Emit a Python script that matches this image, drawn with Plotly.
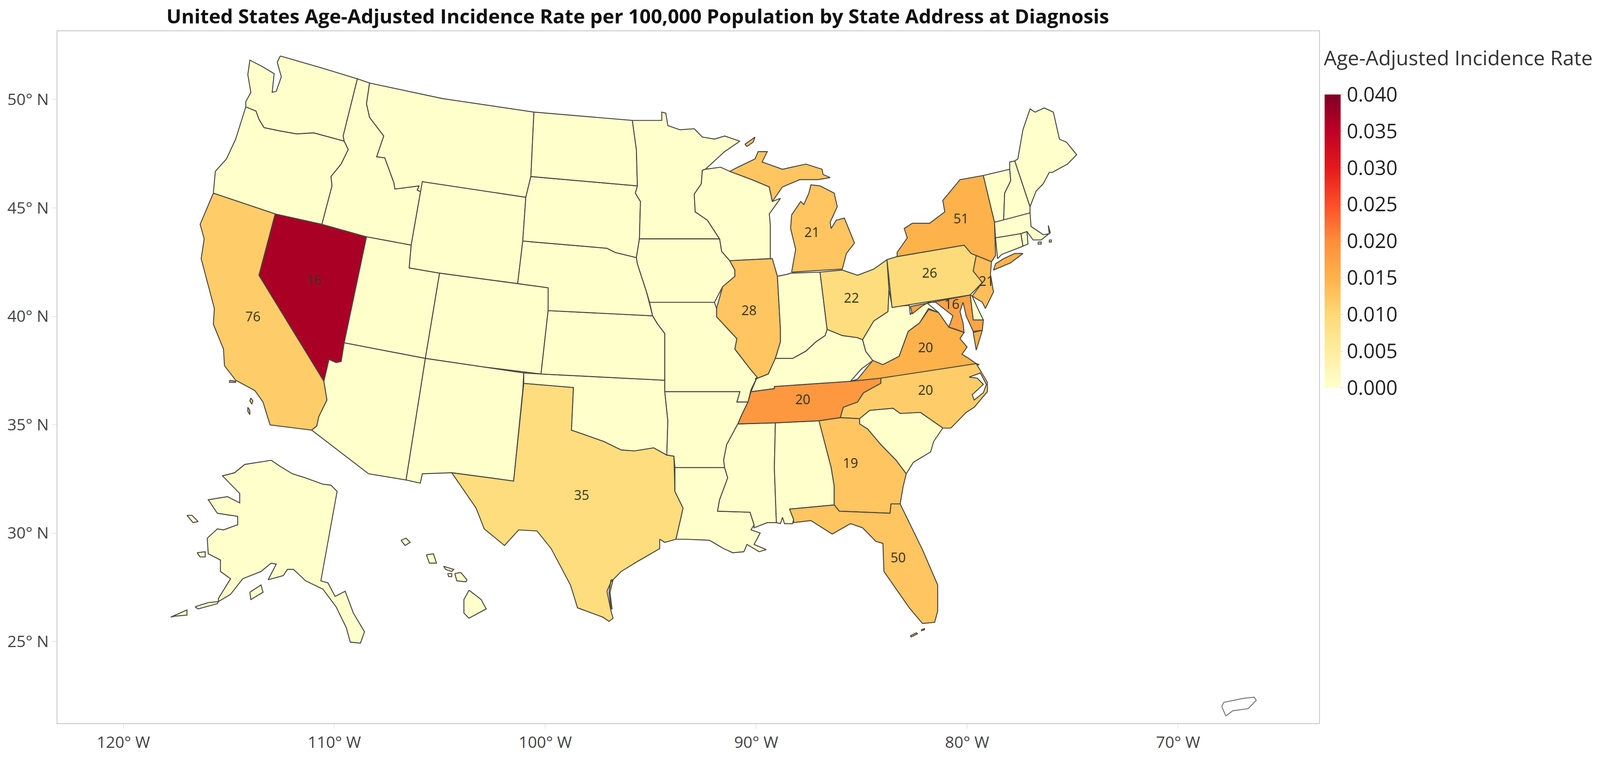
import plotly.graph_objects as go
from plotly.colors import sample_colorscale

WA = [[(276,54),(315,65),(352,76),(338,131),(339,136),(309,128),(292,129),(275,126),(260,123),(255,115),(252,107),(242,103),(242,98),(247,89),(244,72),(246,58),(258,64),(270,71),(268,89),(272,88),(277,74),(273,60)]]
OR = [[(210,186),(212,165),(223,153),(232,134),(242,103),(252,107),(255,115),(260,123),(275,126),(292,129),(309,128),(339,136),(343,144),(336,158),(326,170),(327,179),(317,216),(271,206)]]
CA = [[(210,186),(271,206),(255,265),(319,367),(322,385),(314,401),(312,410),(307,414),(266,409),(264,403),(259,387),(251,376),(232,366),(221,352),(220,336),(210,312),(211,297),(204,271),(198,249),(201,230),(197,216)],
      [(247,383),(249,386),(248,389),(246,386)],[(244,392),(246,395),(246,399),(244,396)],[(226,366),(232,367),(232,368),(226,368)]]
NV = [[(271,206),(317,216),(361,228),(339,330),(336,348),(331,349),(324,346),(319,367),(255,265)]]
ID = [[(352,76),(364,80),(361,100),(364,113),(378,131),(371,151),(379,152),(388,176),(389,182),(413,179),(411,183),(415,185),(416,175),(405,236),(361,228),(317,216),(327,179),(326,170),(336,158),(343,144),(339,136),(338,131)]]
MT = [[(364,80),(436,95),(526,108),(523,170),(518,190),(416,175),(415,185),(411,183),(413,179),(389,182),(388,176),(379,152),(371,151),(378,131),(364,113),(361,100)]]
WY = [[(416,175),(518,190),(515,232),(510,273),(433,263),(403,258),(405,236)]]
UT = [[(361,228),(405,236),(403,258),(433,263),(419,345),(339,330)]]
CO = [[(433,263),(510,273),(540,277),(540,299),(533,360),(475,353),(419,345)]]
AZ = [[(339,330),(419,345),(414,376),(400,462),(363,456),(307,414),(312,410),(314,401),(322,385),(319,367),(324,346),(331,349),(336,348)]]
NM = [[(419,345),(516,359),(515,376),(506,463),(445,455),(416,456),(414,465),(400,462),(414,376)]]
TX = [[(516,369),(565,373),(563,414),(575,418),(595,425),(612,433),(625,434),(644,431),(657,438),(664,439),(665,473),(673,489),(671,498),(666,519),(655,522),(650,519),(650,528),(627,541),(612,550),(602,560),(598,569),(602,588),(604,595),(600,598),(594,594),(569,585),(562,563),(543,528),(529,511),(511,510),(497,525),(477,509),(469,489),(445,455),(506,463),(515,376)],
      [(602,558),(600,570),(602,586),(603,586),(601,570),(604,558)]]
OK = [[(516,359),(533,360),(655,366),(655,377),(658,405),(657,438),(644,431),(625,434),(612,433),(595,425),(575,418),(563,414),(565,373),(516,369)]]
KS = [[(540,299),(643,304),(648,312),(655,321),(655,366),(533,360)]]
NE = [[(515,232),(526,233),(598,239),(606,243),(627,248),(628,254),(637,281),(643,304),(540,299),(540,277),(510,273)]]
SD = [[(523,170),(628,179),(626,186),(631,194),(630,230),(627,248),(606,243),(598,239),(526,233),(515,232),(518,190)]]
ND = [[(526,108),(623,116),(627,144),(628,179),(523,170)]]
MN = [[(623,116),(652,116),(652,108),(656,109),(658,121),(670,125),(684,124),(692,132),(704,134),(714,131),(729,136),(714,146),(695,163),(692,164),(691,177),(684,187),(685,204),(697,212),(709,230),(630,230),(631,194),(626,186),(628,179),(627,144)]]
WI = [[(692,164),(695,163),(710,161),(719,165),(741,173),(758,180),(761,194),(769,191),(758,206),(759,216),(759,249),(719,251),(711,242),(709,230),(697,212),(685,204),(684,187),(691,177)]]
IL = [[(719,251),(761,249),(766,266),(769,317),(769,329),(764,345),(757,360),(744,365),(739,355),(724,336),(726,326),(706,305),(706,297),(712,276),(724,266),(724,260)]]
IA = [[(630,230),(709,230),(711,242),(719,251),(724,260),(724,266),(712,276),(704,291),(640,291),(637,281),(628,254),(627,248)]]
MO = [[(640,291),(704,291),(706,297),(706,305),(726,326),(724,336),(739,355),(746,363),(740,375),(737,387),(726,387),(729,377),(655,377),(655,321),(648,312),(643,304)]]
AR = [[(655,377),(729,377),(726,387),(737,387),(731,399),(727,408),(716,428),(713,443),(714,450),(665,450),(664,439),(657,438),(658,405)]]
LA = [[(665,450),(714,450),(717,460),(709,481),(707,492),(739,493),(743,505),(740,510),(749,513),(743,524),(755,529),(748,531),(736,524),(733,531),(722,532),(713,528),(706,524),(699,520),(676,519),(666,519),(671,498),(673,489),(665,473)]]
MS = [[(729,408),(764,407),(763,450),(765,503),(756,503),(743,508),(743,505),(739,493),(707,492),(709,481),(717,460),(714,450),(713,443),(716,428),(727,408)]]
AL = [[(764,407),(807,405),(819,450),(822,468),(822,486),(778,490),(782,500),(781,504),(773,504),(771,498),(769,504),(765,503),(763,450)]]
TN = [[(868,364),(838,367),(763,372),(763,374),(740,377),(737,387),(731,399),(727,408),(764,407),(807,405),(828,402),(831,392),(845,387),(851,378),(868,369)]]
KY = [[(764,345),(781,345),(794,338),(804,329),(813,323),(815,317),(830,323),(845,325),(850,327),(853,338),(860,347),(849,355),(838,367),(763,372),(763,374),(740,377),(746,363),(744,365),(757,360)]]
IN = [[(766,266),(776,264),(779,263),(808,262),(815,317),(813,323),(804,329),(794,338),(781,345),(764,345),(769,329),(769,317)]]
OH = [[(808,262),(830,260),(845,265),(861,259),(874,250),(876,279),(875,300),(861,309),(856,317),(850,327),(845,325),(830,323),(815,317)]]
MI = [[(780,262),(830,259),(834,244),(842,234),(832,210),(824,212),(819,220),(818,214),(825,199),(822,186),(808,179),(799,178),(797,186),(792,197),(789,194),(780,207),(779,220),(784,240)],
      [(719,165),(727,161),(744,153),(747,146),(756,146),(751,156),(771,163),(794,158),(810,163),(811,168),(818,171),(806,173),(788,173),(771,180),(761,194),(758,180),(741,173)]]
MN_ISLE = [[(734,139),(744,132),(742,137),(736,141)]]
WV = [[(876,279),(879,295),(896,294),(897,303),(903,294),(914,292),(925,301),(915,297),(906,311),(895,319),(886,343),(870,351),(860,347),(853,338),(850,327),(856,317),(861,309),(875,300)]]
PA = [[(884,247),(874,250),(879,296),(956,284),(968,272),(959,261),(962,246),(957,244),(950,236)]]
NY = [[(884,247),(884,243),(894,229),(891,220),(899,215),(916,215),(931,204),(929,193),(946,173),(969,169),(980,214),(981,246),(977,252),(962,246),(957,244),(950,236)],
      [(981,254),(979,260),(996,253),(1008,244),(1000,244),(989,249)]]
NJ = [[(962,246),(977,252),(976,264),(979,281),(971,297),(968,291),(958,285),(968,272),(959,261)]]
DE = [[(956,284),(958,285),(964,298),(969,308),(959,308)]]
MD = [[(897,295),(956,284),(959,308),(969,308),(968,318),(959,319),(952,304),(949,291),(946,300),(949,311),(950,320),(942,317),(935,315),(939,304),(922,291),(915,291),(908,295),(899,302)]]
VA = [[(915,298),(925,301),(935,315),(950,320),(946,326),(953,334),(948,341),(953,344),(962,350),(965,351),(868,364),(838,367),(845,365),(860,347),(870,351),(886,343),(895,319),(906,311)],
      [(968,318),(962,337),(959,320)]]
NC = [[(868,364),(962,350),(973,368),(973,377),(960,392),(952,397),(937,412),(929,412),(907,397),(887,398),(880,393),(857,395),(847,403),(828,402),(831,392),(845,387),(851,378),(868,369)]]
PAMLICO = [[(955,363),(966,359),(972,370),(969,378),(960,385),(958,380),(969,370),(963,364)]]
SC = [[(847,403),(857,395),(880,393),(887,398),(907,397),(929,412),(920,425),(917,435),(900,445),(893,456),(883,443),(868,428),(855,413),(847,408)]]
GA = [[(807,405),(828,402),(847,403),(847,408),(855,413),(868,428),(883,443),(893,456),(890,468),(887,485),(878,485),(877,494),(827,492),(822,486),(822,468),(819,450)]]
FL = [[(778,490),(822,486),(827,492),(877,494),(878,485),(887,485),(909,529),(924,563),(924,588),(921,599),(909,600),(896,585),(886,571),(871,550),(870,523),(863,521),(850,508),(838,504),(820,514),(799,501),(782,503),(782,500)],
      [(897,612),(903,609),(904,610),(898,613)],[(908,606),(911,605),(911,606),(908,607)]]
VT = [[(969,169),(995,163),(996,174),(990,186),(989,212),(980,214)]]
NH = [[(995,163),(995,156),(1000,155),(1015,199),(1015,205),(989,212),(990,186),(996,174)]]
ME = [[(1000,155),(1003,153),(1008,125),(1015,105),(1020,108),(1029,104),(1038,108),(1044,134),(1051,137),(1061,149),(1052,158),(1037,166),(1034,166),(1028,177),(1021,184),(1015,199)]]
MA = [[(980,214),(1015,205),(1016,218),(1028,226),(1034,225),(1033,217),(1035,224),(1026,231),(1018,231),(1012,223),(1006,225),(981,229)],
      [(1023,233),(1026,233),(1026,235),(1023,235)],[(1034,231),(1036,231),(1036,233),(1034,233)]]
RI = [[(1006,225),(1012,223),(1013,235),(1008,237)]]
CT = [[(981,229),(1006,225),(1008,237),(987,245),(983,249)]]
AK = [[(267,443),(276,449),(288,456),(301,460),(318,466),(326,467),(332,473),(316,559),(323,561),(330,574),(340,569),(348,590),(359,608),(355,619),(345,618),(341,604),(331,584),(318,567),(301,559),(289,548),(283,548),(279,554),(264,558),(272,543),(267,542),(257,550),(239,557),(227,572),(215,579),(215,576),(227,557),(217,550),(217,539),(205,533),(204,518),(214,509),(220,510),(234,505),(234,497),(214,494),(205,481),(224,478),(236,484),(236,475),(219,458),(231,455),(241,447),(254,445)],
      [(184,496),(189,496),(195,502),(190,503)],[(194,532),(202,531),(202,536),(197,536)],[(246,570),(257,563),(259,570),(247,577)],
      [(192,584),(205,580),(215,579),(214,581),(195,586)],[(168,594),(179,589),(184,587),(184,592),(172,593)]]
HI = [[(395,520),(400,518),(404,522),(399,525)],[(420,534),(427,533),(430,542),(423,542)],[(437,545),(447,548),(445,550),(439,548)],
      [(441,552),(445,552),(445,555),(442,555)],[(448,552),(454,551),(460,558),(459,560),(450,559)],[(462,568),(474,577),(479,586),(462,595),(457,590),(457,577)]]
PR = [[(1204,680),(1206,676),(1226,672),(1236,671),(1238,674),(1230,682),(1215,684),(1208,689)]]

states = ["WA","OR","CA","NV","ID","MT","WY","UT","CO","AZ","NM","TX","OK","KS","NE","SD","ND","MN","MI_","WI","IL","IA","MO","AR","LA","MS","AL","TN","KY","IN","OH","MI","WV","PA","NY","NJ","DE","MD","VA","NC","SC","GA","FL","VT","NH","ME","MA","RI","CT","AK","HI"]
outlines = [WA,OR,CA,NV,ID,MT,WY,UT,CO,AZ,NM,TX,OK,KS,NE,SD,ND,MN,MN_ISLE,WI,IL,IA,MO,AR,LA,MS,AL,TN,KY,IN,OH,MI,WV,PA,NY,NJ,DE,MD,VA,NC,SC,GA,FL,VT,NH,ME,MA,RI,CT,AK,HI]
rate = {"CA":0.0115,"NV":0.0365,"TX":0.0090,"IL":0.0125,"MI":0.0125,"MI_":0.0125,"OH":0.0090,"PA":0.0095,"NY":0.0150,"NJ":0.0135,"MD":0.0170,"VA":0.0150,"NC":0.0115,"TN":0.0185,"GA":0.0125,"FL":0.0125}
label_states = ["NV","CA","TX","IL","MI","OH","PA","NY","NJ","MD","VA","NC","TN","GA","FL"]
label_counts = ["16","76","35","28","21","22","26","51","21","16","20","20","20","19","50"]
label_x = [309,249,573,738,800,839,916,947,972,938,912,912,791,838,885]
label_y = [271,306,478,300,225,288,264,212,272,294,336,377,386,447,538]
x_ticks = [-120,-110,-100,-90,-80,-70]
x_tick_labels = ["120° W","110° W","100° W","90° W","80° W","70° W"]
y_ticks = [25,30,35,40,45,50]
y_tick_labels = ["25° N","30° N","35° N","40° N","45° N","50° N"]
cbar_ticks = [0,0.005,0.01,0.015,0.02,0.025,0.03,0.035,0.04]

YLORRD = [[0,"#ffffcc"],[.125,"#ffeda0"],[.25,"#fed976"],[.375,"#feb24c"],[.5,"#fd8d3c"],[.625,"#fc4e2a"],[.75,"#e31a1c"],[.875,"#bd0026"],[1,"#800026"]]
def lon(u): return -120 + (u-121.4)/20.79
def lat(v): return 50 - (v-95.9)/20.86
def col(r): return sample_colorscale(YLORRD,[r/0.04],colortype="rgb")[0]

def ring_xy(rings):
    xs, ys = [], []
    for ring in rings:
        closed = ring + ring[:1]
        xs += [lon(p[0]) for p in closed] + [None]
        ys += [lat(p[1]) for p in closed] + [None]
    return xs, ys

fig = go.Figure()
LINE = dict(color="#45453f", width=2.4)
for s, rings in zip(states, outlines):
    xs, ys = ring_xy(rings)
    fig.add_trace(go.Scatter(x=xs, y=ys, mode="lines", fill="toself", fillcolor=col(rate.get(s,0)), line=LINE, name=s, showlegend=False, hoverinfo="name"))
for rings, lc in ((PAMLICO,"#45453f"),(PR,"#777777")):
    xs, ys = ring_xy(rings)
    fig.add_trace(go.Scatter(x=xs, y=ys, mode="lines", fill="toself", fillcolor="white", line=dict(color=lc, width=2.4), showlegend=False, hoverinfo="skip"))

fig.add_trace(go.Scatter(
    x=[lon(v) for v in label_x], y=[lat(v) for v in label_y], mode="markers+text",
    text=label_counts, textposition="middle center",
    textfont=dict(family="Open Sans", size=34, color="#3a3020"),
    marker=dict(size=1, opacity=0, color=[rate[s] for s in label_states], cmin=0, cmax=0.04, colorscale=YLORRD, showscale=True,
        colorbar=dict(xref="container", yref="container", x=3470/4192, xanchor="left", y=1-265/1941, yanchor="top",
            len=751, lenmode="pixels", thickness=41, thicknessmode="pixels", xpad=0, ypad=0, outlinewidth=0,
            tickmode="array", tickvals=cbar_ticks, tickformat=".3f", ticks="outside", ticklen=6, tickcolor="#f0b0b0",
            tickfont=dict(family="Open Sans", size=51, color="#222222"))),
    showlegend=False, hoverinfo="skip"))

fig.update_layout(
    width=4096, height=1941, autosize=False, paper_bgcolor="white", plot_bgcolor="white",
    margin=dict(l=147, r=717, t=80, b=89),
    title=dict(text="<b>United States Age-Adjusted Incidence Rate per 100,000 Population by State Address at Diagnosis</b>",
        x=1671/4192, xanchor="center", y=1-42/1941, yanchor="middle", xref="container", yref="container",
        font=dict(family="Open Sans", size=50.5, color="#111111")),
    xaxis=dict(range=[-123.13,-63.31], tickmode="array", tickvals=x_ticks, ticktext=x_tick_labels, ticks="outside", ticklen=12, tickcolor="#cccccc",
        showgrid=False, zeroline=False, showline=True, mirror=True, linecolor="#c4c4c4", linewidth=2, tickfont=dict(family="Open Sans", size=41, color="#444444")),
    yaxis=dict(range=[21.23,53.15], tickmode="array", tickvals=y_ticks, ticktext=y_tick_labels, ticks="outside", ticklen=12, tickcolor="#cccccc",
        showgrid=False, zeroline=False, showline=True, mirror=True, linecolor="#c4c4c4", linewidth=2, tickfont=dict(family="Open Sans", size=41, color="#444444")),
    annotations=[dict(text="Age-Adjusted Incidence Rate", xref="paper", yref="paper", x=(3468-150)/3308, y=1-(146-80)/1772, xanchor="left", yanchor="middle",
        showarrow=False, font=dict(family="Open Sans", size=52, color="#333333"))],
)
fig.write_html("out.html", config={"displayModeBar": False}, post_script="document.body.style.margin='0';document.documentElement.style.overflow='hidden';")
